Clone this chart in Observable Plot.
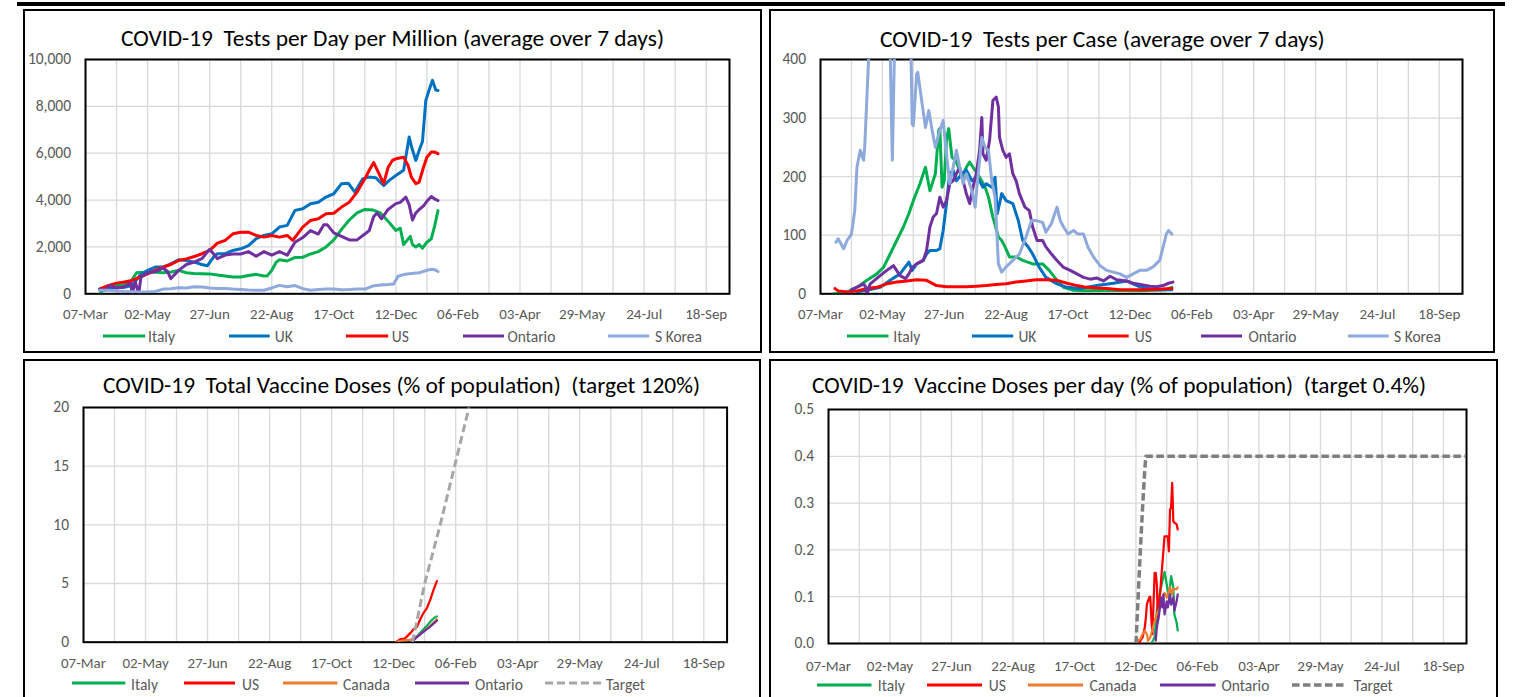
<!DOCTYPE html>
<html><head><meta charset="utf-8">
<script src="https://cdn.jsdelivr.net/npm/d3@7"></script>
<script src="https://cdn.jsdelivr.net/npm/@observablehq/plot@0.6"></script>
<style>
html,body{margin:0;padding:0;background:#fff;}
body{width:1518px;height:697px;position:relative;overflow:hidden;font-family:Carlito,Calibri,Lato,sans-serif;}
.panel{position:absolute;border:2px solid #000;box-sizing:border-box;background:#fff;}
.title{position:absolute;white-space:pre;font-size:22.5px;color:#000;transform-origin:0 50%;line-height:22.5px;font-weight:400;}
.legtxt{position:absolute;white-space:pre;font-size:15.5px;color:#595959;line-height:15.5px;}
.sw{position:absolute;overflow:visible;}
</style></head><body>
<script>
// ---------- axis data ----------
const xStart = "2020-03-07", xEnd = "2021-10-09";
const xTickDates = ["2020-03-07","2020-05-02","2020-06-27","2020-08-22","2020-10-17","2020-12-12","2021-02-06","2021-04-03","2021-05-29","2021-07-24","2021-09-18"];
const p1YTicks = [0,2000,4000,6000,8000,10000];
const p2YTicks = [0,100,200,300,400];
const p3YTicks = [0,5,10,15,20];
const p4YTicks = [0,0.1,0.2,0.3,0.4,0.5];
const p1Names = ["Italy","UK","US","Ontario","S Korea"];
const p2Names = ["Italy","UK","US","Ontario","S Korea"];
const p3Names = ["Italy","US","Canada","Ontario","Target"];
const p4Names = ["Italy","US","Canada","Ontario","Target"];

// ---------- Panel 1: tests per day per million ----------
const p1Italy = [["2020-03-20",0],["2020-03-24",200],["2020-03-31",330],["2020-04-07",380],["2020-04-14",420],["2020-04-18",600],["2020-04-22",900],["2020-05-02",930],["2020-05-09",920],["2020-05-16",900],["2020-05-23",930],["2020-05-30",1000],["2020-06-06",900],["2020-06-13",870],["2020-06-20",860],["2020-06-27",850],["2020-07-04",800],["2020-07-11",760],["2020-07-18",720],["2020-07-25",720],["2020-08-01",780],["2020-08-08",830],["2020-08-15",760],["2020-08-18",770],["2020-08-22",1000],["2020-08-26",1350],["2020-08-29",1450],["2020-09-05",1400],["2020-09-12",1550],["2020-09-19",1560],["2020-09-26",1700],["2020-10-03",1800],["2020-10-10",2000],["2020-10-17",2300],["2020-10-24",2750],["2020-10-31",3150],["2020-11-07",3450],["2020-11-14",3600],["2020-11-21",3580],["2020-11-28",3450],["2020-12-05",3100],["2020-12-12",2700],["2020-12-16",2800],["2020-12-19",2100],["2020-12-25",2450],["2020-12-27",2100],["2020-12-30",2000],["2021-01-02",2100],["2021-01-05",1950],["2021-01-09",2200],["2021-01-13",2350],["2021-01-16",2900],["2021-01-19",3550]];
const p1UK = [["2020-03-20",150],["2020-03-28",210],["2020-04-04",260],["2020-04-11",280],["2020-04-18",355],["2020-04-25",780],["2020-05-02",1000],["2020-05-09",1140],["2020-05-16",1140],["2020-05-23",1280],["2020-05-30",1450],["2020-06-06",1420],["2020-06-13",1350],["2020-06-20",1250],["2020-06-25",1200],["2020-07-01",1600],["2020-07-04",1710],["2020-07-11",1710],["2020-07-18",1850],["2020-07-25",1920],["2020-08-01",2060],["2020-08-08",2350],["2020-08-15",2490],["2020-08-22",2560],["2020-08-29",2850],["2020-09-05",2920],["2020-09-12",3560],["2020-09-19",3630],["2020-09-26",3840],["2020-10-03",3910],["2020-10-10",4130],["2020-10-17",4270],["2020-10-24",4700],["2020-10-30",4720],["2020-11-05",4340],["2020-11-12",4900],["2020-11-17",4980],["2020-11-24",4950],["2020-12-01",4620],["2020-12-06",4840],["2020-12-12",5050],["2020-12-19",5270],["2020-12-24",6690],["2020-12-26",6300],["2020-12-30",5690],["2021-01-02",6120],["2021-01-05",6500],["2021-01-08",8250],["2021-01-11",8700],["2021-01-14",9110],["2021-01-17",8700],["2021-01-19",8680]];
const p1US = [["2020-03-20",210],["2020-03-28",355],["2020-04-04",455],["2020-04-11",500],["2020-04-18",570],["2020-04-25",710],["2020-05-02",850],["2020-05-09",1000],["2020-05-16",1140],["2020-05-23",1250],["2020-05-30",1420],["2020-06-06",1490],["2020-06-13",1590],["2020-06-20",1710],["2020-06-27",1850],["2020-07-04",2160],["2020-07-11",2280],["2020-07-18",2560],["2020-07-25",2630],["2020-08-01",2630],["2020-08-08",2490],["2020-08-15",2420],["2020-08-22",2490],["2020-08-29",2420],["2020-09-05",2490],["2020-09-10",2280],["2020-09-19",2850],["2020-09-26",3130],["2020-10-03",3200],["2020-10-10",3420],["2020-10-17",3440],["2020-10-24",3700],["2020-10-31",3910],["2020-11-07",4340],["2020-11-14",4910],["2020-11-18",5270],["2020-11-22",5600],["2020-11-26",5200],["2020-12-01",4700],["2020-12-05",5400],["2020-12-09",5700],["2020-12-12",5760],["2020-12-19",5830],["2020-12-23",5480],["2020-12-26",4980],["2020-12-30",4700],["2021-01-02",4770],["2021-01-06",5410],["2021-01-09",5830],["2021-01-13",6050],["2021-01-16",6050],["2021-01-19",5980]];
const p1Ontario = [["2020-03-20",200],["2020-03-25",150],["2020-03-29",350],["2020-04-04",250],["2020-04-11",300],["2020-04-17",450],["2020-04-18",0],["2020-04-21",500],["2020-04-24",0],["2020-04-26",700],["2020-05-02",900],["2020-05-09",950],["2020-05-16",1100],["2020-05-20",950],["2020-05-23",650],["2020-05-30",1000],["2020-06-06",1250],["2020-06-13",1350],["2020-06-20",1500],["2020-06-27",1900],["2020-07-04",1500],["2020-07-11",1650],["2020-07-18",1700],["2020-07-25",1700],["2020-08-01",1800],["2020-08-08",1600],["2020-08-15",1800],["2020-08-22",1650],["2020-08-29",1800],["2020-09-05",1650],["2020-09-12",2200],["2020-09-19",2400],["2020-09-26",2700],["2020-10-03",2550],["2020-10-08",2950],["2020-10-11",2950],["2020-10-17",2600],["2020-10-24",2450],["2020-10-31",2300],["2020-11-07",2300],["2020-11-14",2550],["2020-11-18",2700],["2020-11-22",3300],["2020-11-25",3450],["2020-11-29",3200],["2020-12-05",3600],["2020-12-12",3850],["2020-12-16",3900],["2020-12-21",4130],["2020-12-24",3800],["2020-12-27",3150],["2020-12-30",3450],["2021-01-02",3600],["2021-01-06",3750],["2021-01-09",3950],["2021-01-13",4150],["2021-01-16",4050],["2021-01-19",3980]];
const p1SKorea = [["2020-03-20",150],["2020-03-28",150],["2020-04-04",120],["2020-04-11",100],["2020-04-18",90],["2020-04-25",80],["2020-05-02",80],["2020-05-09",100],["2020-05-16",200],["2020-05-23",220],["2020-05-30",260],["2020-06-06",250],["2020-06-13",300],["2020-06-20",290],["2020-06-27",250],["2020-07-04",230],["2020-07-11",230],["2020-07-18",200],["2020-07-25",180],["2020-08-01",160],["2020-08-08",150],["2020-08-15",150],["2020-08-22",250],["2020-08-29",360],["2020-09-05",300],["2020-09-12",350],["2020-09-19",220],["2020-09-26",150],["2020-10-03",180],["2020-10-10",200],["2020-10-17",200],["2020-10-24",170],["2020-10-31",180],["2020-11-07",200],["2020-11-14",200],["2020-11-21",330],["2020-11-28",380],["2020-12-05",400],["2020-12-10",420],["2020-12-14",750],["2020-12-19",820],["2020-12-26",870],["2021-01-02",900],["2021-01-09",1000],["2021-01-13",1050],["2021-01-16",1030],["2021-01-19",950]];

// ---------- Panel 2: tests per case ----------
const p2Italy = [["2020-03-19",0],["2020-03-31",3],["2020-04-09",11],["2020-04-18",23],["2020-04-27",34],["2020-05-03",45],["2020-05-09",68],["2020-05-15",91],["2020-05-21",114],["2020-05-26",137],["2020-05-30",159],["2020-06-05",188],["2020-06-10",216],["2020-06-14",176],["2020-06-19",205],["2020-06-22",279],["2020-06-23",282],["2020-06-25",182],["2020-06-27",193],["2020-06-29",262],["2020-07-01",282],["2020-07-04",233],["2020-07-07",228],["2020-07-10",216],["2020-07-13",199],["2020-07-17",216],["2020-07-20",225],["2020-07-23",216],["2020-07-29",199],["2020-08-03",182],["2020-08-06",165],["2020-08-10",131],["2020-08-15",97],["2020-08-18",91],["2020-08-21",80],["2020-08-25",63],["2020-08-31",63],["2020-09-06",57],["2020-09-15",51],["2020-09-24",51],["2020-09-30",40],["2020-10-07",23],["2020-10-13",11],["2020-10-22",6],["2020-11-03",5],["2020-11-27",6],["2020-12-21",5],["2021-01-14",7],["2021-01-19",11]];
const p2UK = [["2020-04-09",3],["2020-04-18",6],["2020-04-30",11],["2020-05-09",23],["2020-05-18",34],["2020-05-26",54],["2020-05-29",40],["2020-06-02",51],["2020-06-08",57],["2020-06-11",68],["2020-06-14",74],["2020-06-20",74],["2020-06-23",77],["2020-06-26",108],["2020-06-29",154],["2020-07-02",205],["2020-07-05",211],["2020-07-08",193],["2020-07-13",205],["2020-07-17",211],["2020-07-22",193],["2020-07-26",199],["2020-07-29",193],["2020-08-01",182],["2020-08-04",188],["2020-08-09",182],["2020-08-12",199],["2020-08-14",137],["2020-08-18",171],["2020-08-22",159],["2020-08-28",154],["2020-09-02",125],["2020-09-06",91],["2020-09-11",80],["2020-09-15",68],["2020-09-21",45],["2020-09-27",28],["2020-10-07",17],["2020-10-16",11],["2020-10-28",9],["2020-11-12",14],["2020-11-27",18],["2020-12-09",22],["2020-12-21",12],["2021-01-02",7],["2021-01-19",7]];
const p2US = [["2020-03-20",9],["2020-03-23",5],["2020-03-31",3],["2020-04-09",5],["2020-04-18",9],["2020-04-27",11],["2020-05-06",17],["2020-05-15",20],["2020-05-24",22],["2020-06-02",24],["2020-06-11",23],["2020-06-20",14],["2020-06-29",12],["2020-07-08",12],["2020-07-17",12],["2020-07-26",13],["2020-08-04",14],["2020-08-13",16],["2020-08-22",17],["2020-08-31",20],["2020-09-09",22],["2020-09-18",24],["2020-09-27",24],["2020-10-07",23],["2020-10-16",18],["2020-10-25",14],["2020-11-03",11],["2020-11-12",10],["2020-11-21",9],["2020-12-03",7],["2020-12-27",7],["2021-01-19",9]];
const p2Ontario = [["2020-04-04",7],["2020-04-12",14],["2020-04-15",17],["2020-04-17",11],["2020-04-18",0],["2020-04-21",17],["2020-04-30",31],["2020-05-06",40],["2020-05-12",48],["2020-05-18",31],["2020-05-23",26],["2020-05-26",34],["2020-05-29",45],["2020-06-02",51],["2020-06-08",57],["2020-06-11",74],["2020-06-14",114],["2020-06-17",131],["2020-06-20",137],["2020-06-23",165],["2020-06-26",148],["2020-06-29",159],["2020-07-02",188],["2020-07-05",193],["2020-07-08",205],["2020-07-11",216],["2020-07-14",193],["2020-07-17",171],["2020-07-20",154],["2020-07-23",182],["2020-07-26",205],["2020-07-29",245],["2020-07-31",301],["2020-08-01",239],["2020-08-04",228],["2020-08-07",262],["2020-08-10",330],["2020-08-13",336],["2020-08-15",319],["2020-08-16",267],["2020-08-19",245],["2020-08-22",233],["2020-08-25",239],["2020-08-28",205],["2020-08-31",193],["2020-09-03",171],["2020-09-08",148],["2020-09-12",142],["2020-09-15",114],["2020-09-19",91],["2020-09-24",91],["2020-09-27",80],["2020-10-02",68],["2020-10-07",57],["2020-10-13",45],["2020-10-19",40],["2020-10-25",34],["2020-10-31",28],["2020-11-06",25],["2020-11-12",27],["2020-11-18",22],["2020-11-24",30],["2020-11-30",24],["2020-12-09",22],["2020-12-15",18],["2020-12-24",15],["2020-12-30",13],["2021-01-05",12],["2021-01-11",14],["2021-01-16",18],["2021-01-20",20]];
const p2SKorea = [["2020-03-21",88],["2020-03-23",94],["2020-03-28",77],["2020-03-31",91],["2020-04-04",102],["2020-04-07",142],["2020-04-09",216],["2020-04-12",245],["2020-04-13",239],["2020-04-15",228],["2020-04-16",250],["2020-04-18",336],["2020-04-20",420],["2020-04-23",600],["2020-05-07",600],["2020-05-09",420],["2020-05-11",228],["2020-05-13",420],["2020-05-16",600],["2020-05-26",600],["2020-05-28",400],["2020-05-29",290],["2020-05-30",287],["2020-06-02",375],["2020-06-03",378],["2020-06-07",324],["2020-06-10",284],["2020-06-13",313],["2020-06-16",279],["2020-06-19",250],["2020-06-23",279],["2020-06-26",296],["2020-06-29",239],["2020-07-02",188],["2020-07-05",216],["2020-07-08",245],["2020-07-11",216],["2020-07-14",188],["2020-07-17",205],["2020-07-22",176],["2020-07-25",148],["2020-07-26",171],["2020-07-31",267],["2020-08-03",250],["2020-08-06",245],["2020-08-09",193],["2020-08-12",165],["2020-08-15",51],["2020-08-18",37],["2020-08-22",46],["2020-08-28",57],["2020-09-03",68],["2020-09-09",97],["2020-09-14",125],["2020-09-18",125],["2020-09-24",122],["2020-09-27",105],["2020-10-02",120],["2020-10-07",148],["2020-10-10",125],["2020-10-13",114],["2020-10-17",102],["2020-10-22",108],["2020-10-26",102],["2020-10-31",102],["2020-11-04",80],["2020-11-09",63],["2020-11-15",48],["2020-11-21",40],["2020-11-27",37],["2020-12-03",34],["2020-12-09",28],["2020-12-15",34],["2020-12-21",40],["2020-12-27",40],["2021-01-02",46],["2021-01-08",57],["2021-01-14",102],["2021-01-16",108],["2021-01-19",102]];

// ---------- Panel 3: total vaccine doses (% of population) ----------
const p3Italy = [["2020-12-28",0],["2021-01-02",0.5],["2021-01-06",0.9],["2021-01-11",1.4],["2021-01-15",1.84],["2021-01-18",2.1],["2021-01-20",2.2]];
const p3US = [["2020-12-14",0],["2020-12-18",0.26],["2020-12-22",0.3],["2020-12-27",0.77],["2020-12-30",1.1],["2021-01-02",1.3],["2021-01-05",1.96],["2021-01-08",2.5],["2021-01-11",2.9],["2021-01-14",3.6],["2021-01-17",4.45],["2021-01-20",5.2]];
const p3Canada = [["2020-12-14",0],["2020-12-17",0.1],["2020-12-22",0.15],["2020-12-27",0.2],["2021-01-02",0.45],["2021-01-08",0.9],["2021-01-14",1.4],["2021-01-20",1.95]];
const p3Ontario = [["2020-12-28",0],["2021-01-02",0.43],["2021-01-08",0.9],["2021-01-14",1.33],["2021-01-20",1.84]];
const p3Target = [["2020-12-29",0],["2021-01-09",5],["2021-01-23",10],["2021-02-05",15],["2021-02-18",20]];

// ---------- Panel 4: vaccine doses per day (% of population) ----------
const p4Italy = [["2020-12-26",0],["2020-12-29",0.013],["2020-12-31",0.07],["2021-01-02",0.1],["2021-01-05",0.133],["2021-01-07",0.153],["2021-01-09",0.126],["2021-01-11",0.098],["2021-01-13",0.144],["2021-01-15",0.12],["2021-01-16",0.062],["2021-01-18",0.045],["2021-01-19",0.028]];
const p4US = [["2020-12-14",0],["2020-12-16",0.006],["2020-12-18",0.013],["2020-12-20",0.034],["2020-12-21",0.055],["2020-12-22",0.084],["2020-12-24",0.098],["2020-12-25",0.1],["2020-12-26",0.055],["2020-12-27",0.02],["2020-12-29",0.151],["2020-12-30",0.151],["2020-12-31",0.126],["2021-01-01",0.048],["2021-01-02",0.077],["2021-01-05",0.169],["2021-01-07",0.229],["2021-01-10",0.229],["2021-01-11",0.197],["2021-01-12",0.286],["2021-01-13",0.29],["2021-01-14",0.343],["2021-01-15",0.261],["2021-01-16",0.258],["2021-01-18",0.255],["2021-01-19",0.244]];
const p4Canada = [["2020-12-14",0.006],["2020-12-16",0.01],["2020-12-18",0.02],["2020-12-20",0.027],["2020-12-22",0.02],["2020-12-23",0.006],["2020-12-25",0.013],["2020-12-27",0.03],["2020-12-29",0.048],["2020-12-31",0.062],["2021-01-03",0.077],["2021-01-05",0.098],["2021-01-07",0.108],["2021-01-09",0.098],["2021-01-12",0.12],["2021-01-14",0.105],["2021-01-15",0.116],["2021-01-18",0.116],["2021-01-19",0.12]];
const p4Ontario = [["2020-12-30",0.006],["2020-12-31",0.034],["2021-01-02",0.062],["2021-01-04",0.098],["2021-01-05",0.077],["2021-01-06",0.105],["2021-01-07",0.062],["2021-01-09",0.09],["2021-01-10",0.077],["2021-01-12",0.105],["2021-01-13",0.083],["2021-01-15",0.098],["2021-01-16",0.07],["2021-01-18",0.09],["2021-01-19",0.105]];
const p4Target = [["2020-12-12",0],["2020-12-14",0.1],["2020-12-16",0.2],["2020-12-18",0.29],["2020-12-20",0.37],["2020-12-21",0.4],["2021-10-09",0.4]];

// ---------- styles ----------
const C = {Italy:"#00B050", UK:"#0070C0", US:"#FF0000", Ontario:"#7030A0", "S Korea":"#8EA9DB", Canada:"#ED7D31"};
const FONT = "Carlito, Calibri, Lato, sans-serif";
const TITLE_FS = 22.5, LEG_FS = 15.5, XT_FS = 15, YT_FS = 15.5;
const parse = d3.utcParse("%Y-%m-%d");
const rows = pairs => pairs.map(([d, v]) => ({date: parse(d), value: v}));
const x0 = parse(xStart), x1 = parse(xEnd);
const gridDates = d3.range(0, d3.utcDay.count(x0, x1) + 1, 28).map(i => d3.utcDay.offset(x0, i));
const tickDates = xTickDates.map(parse);

const panels = [
  {box:[23,9.3,762,353.3], title:"COVID-19  Tests per Day per Million (average over 7 days)", tx:121, tw:543, ty:37.8,
   plot:[85,729,59,293.3], ticks:p1YTicks, fmt:d3.format(","), tickY:20.7, lw:3,
   series:[[p1Names[0],p1Italy],[p1Names[1],p1UK],[p1Names[2],p1US],[p1Names[3],p1Ontario],[p1Names[4],p1SKorea]],
   legY:336, leg:[[103.2,145.4,148],[229.3,270,274.8],[345.6,387.8,391.7],[463,504,507.5],[608.3,649.5,655]]},
  {box:[769,9.3,1495.3,353.3], title:"COVID-19  Tests per Case (average over 7 days)", tx:880, tw:444.7, ty:39,
   plot:[820,1462,59,293.3], ticks:p2YTicks, fmt:d3.format("d"), tickY:20.7, lw:3,
   series:[[p2Names[0],p2Italy],[p2Names[1],p2UK],[p2Names[2],p2US],[p2Names[3],p2Ontario],[p2Names[4],p2SKorea]],
   legY:336, leg:[[847,888.5,893.3],[971.8,1013,1018.4],[1087.7,1128.4,1134.7],[1201,1242,1248.6],[1348,1388.7,1394]]},
  {box:[23,358.5,761,720], title:"COVID-19  Total Vaccine Doses (% of population)  (target 120%)", tx:103, tw:597, ty:384.5,
   plot:[83.4,727,407.3,642], ticks:p3YTicks, fmt:d3.format("d"), tickY:21.3, lw:2.25,
   series:[[p3Names[0],p3Italy],[p3Names[1],p3US],[p3Names[2],p3Canada],[p3Names[3],p3Ontario],[p3Names[4],p3Target,"#A6A6A6",3,"8,4"]],
   legY:683.3, leg:[[71.7,125,131],[184,235,242],[282.6,337,343],[415,469,475],[545,601,606]]},
  {box:[768.5,359,1498,720], title:"COVID-19  Vaccine Doses per day (% of population)  (target 0.4%)", tx:812.4, tw:614, ty:385,
   plot:[828,1466,408.5,642.5], ticks:p4YTicks, fmt:d3.format(".1f"), tickY:22.5, lw:2.25,
   series:[[p4Names[0],p4Italy],[p4Names[1],p4US],[p4Names[2],p4Canada],[p4Names[3],p4Ontario],[p4Names[4],p4Target,"#7F7F7F",3.5,"7.5,3.5"]],
   legY:685, leg:[[817,871.5,877.8],[927,982,988.8],[1028,1083,1089.6],[1160,1215.6,1221.5],[1292,1346.5,1353.8]]}
];

// top heavy rule of the outer frame
const bar = document.createElement("div");
Object.assign(bar.style, {position:"absolute", left:"17px", top:"1.7px", width:"1488px", height:"4.5px", background:"#000"});
document.body.appendChild(bar);

const titles = [];
for (const p of panels) {
  const [bl, bt, br, bb] = p.box;
  const div = document.createElement("div");
  div.className = "panel";
  Object.assign(div.style, {left: bl + "px", top: bt + "px", width: (br - bl) + "px", height: (bb - bt) + "px"});
  document.body.appendChild(div);

  const [pl, pr, pt, pb] = p.plot;
  const ml = 62, mr = 30, mt = 12, mb = 36;
  const marks = [
    Plot.gridX(gridDates, {stroke:"#D9D9D9", strokeOpacity:1, strokeWidth:1.3}),
    Plot.gridY(p.ticks, {stroke:"#D9D9D9", strokeOpacity:1, strokeWidth:1.3}),
    Plot.frame({stroke:"#000", strokeWidth:2})
  ];
  for (const [name, data, col, w, dash] of p.series) {
    marks.push(Plot.line(rows(data), {x:"date", y:"value", stroke: col || C[name], strokeWidth: w || p.lw,
      strokeDasharray: dash, strokeLinejoin:"round", strokeLinecap: dash ? "butt" : "round", clip:true}));
  }
  marks.push(Plot.axisX(tickDates, {tickSize:0, tickPadding:p.tickY - 0.39 * XT_FS, tickFormat:d3.utcFormat("%d-%b"), fontSize:XT_FS, fill:"#595959", label:null}));
  marks.push(Plot.axisY(p.ticks, {tickSize:0, tickPadding:14.5, tickFormat:p.fmt, fontSize:YT_FS, fill:"#595959", label:null}));
  const svg = Plot.plot({
    width: (pr - pl) + ml + mr, height: (pb - pt) + mt + mb,
    marginLeft: ml, marginRight: mr, marginTop: mt, marginBottom: mb,
    x: {type:"utc", domain:[x0, x1]},
    y: {domain:[p.ticks[0], p.ticks[p.ticks.length - 1]]},
    style: {fontFamily: FONT, background:"transparent", overflow:"visible", color:"#595959"},
    marks
  });
  Object.assign(svg.style, {position:"absolute", left:(pl - ml) + "px", top:(pt - mt) + "px"});
  document.body.appendChild(svg);

  const t = document.createElement("div");
  t.className = "title";
  t.textContent = p.title;
  Object.assign(t.style, {left: p.tx + "px", top: (p.ty - 0.428 * TITLE_FS) + "px", fontFamily: FONT});
  document.body.appendChild(t);
  titles.push([t, p.tw]);

  p.series.forEach(([name, data, col, w, dash], i) => {
    const [sx1, sx2, tx] = p.leg[i];
    const ns = "http://www.w3.org/2000/svg";
    const s = document.createElementNS(ns, "svg");
    s.setAttribute("class", "sw");
    s.setAttribute("width", sx2 - sx1); s.setAttribute("height", 8);
    Object.assign(s.style, {left: sx1 + "px", top: (p.legY - 4) + "px"});
    const ln = document.createElementNS(ns, "line");
    ln.setAttribute("x1", 0); ln.setAttribute("x2", sx2 - sx1); ln.setAttribute("y1", 4); ln.setAttribute("y2", 4);
    ln.setAttribute("stroke", col || C[name]); ln.setAttribute("stroke-width", dash ? (w || 3) : 3);
    if (dash) ln.setAttribute("stroke-dasharray", dash);
    s.appendChild(ln);
    document.body.appendChild(s);
    const lt = document.createElement("div");
    lt.className = "legtxt";
    lt.textContent = name;
    Object.assign(lt.style, {left: tx + "px", top: (p.legY - 0.428 * LEG_FS) + "px", fontFamily: FONT});
    document.body.appendChild(lt);
  });
}
for (const [t, w] of titles) {
  const cw = t.getBoundingClientRect().width;
  t.style.transform = `scaleX(${w / cw})`;
}
</script>
</body></html>
